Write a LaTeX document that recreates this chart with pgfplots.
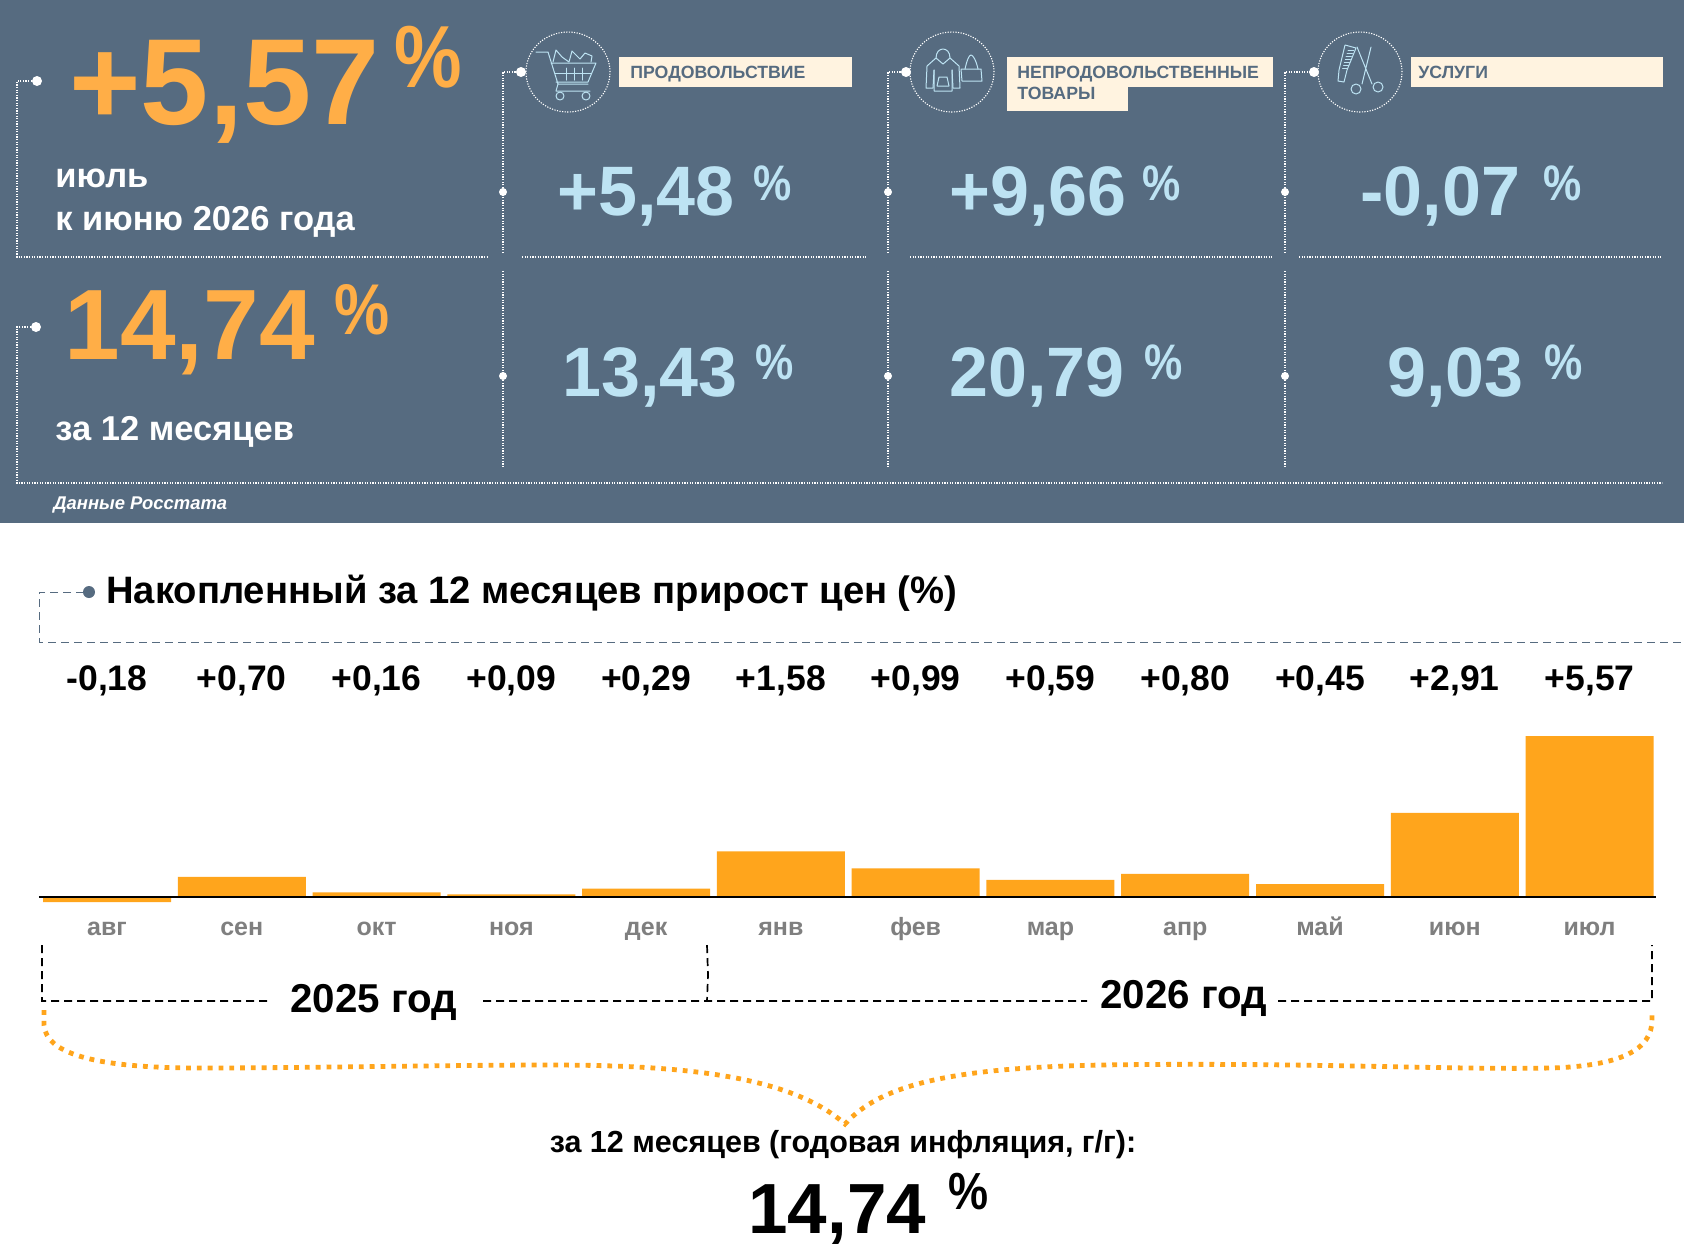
\documentclass[border=0pt]{standalone}
\usepackage{fontspec}
\setmainfont{Liberation Sans}
\usepackage{graphicx}
\usepackage{pgfplots}
\pgfplotsset{compat=1.18}
\definecolor{panel}{HTML}{566B80}
\definecolor{org}{HTML}{FFAE47}
\definecolor{bar}{HTML}{FFA51C}
\definecolor{sky}{HTML}{BDE3F3}
\definecolor{cream}{HTML}{FFF3E0}
\definecolor{grey}{HTML}{7F7F7F}
% sizes are in px of the 1684 wide picture, 1 px = 0.5 pt
\newcommand{\px}[1]{\fontsize{\fpeval{#1/2}pt}{\fpeval{#1/2}pt}\selectfont\bfseries}
% the percent signs of the reference are tall and narrow
\newcommand{\pct}{\scalebox{1}[1.16]{\%}}
\tikzset{
  t/.style={inner sep=0pt, anchor=base west},
  c/.style={inner sep=0pt, anchor=base},
  wdot/.style={draw=white, line width=0.55pt, dash pattern=on 0.6pt off 0.7pt},
  wball/.style={fill=white, draw=none},
  ico/.style={draw=sky, line width=0.5pt, line join=round, line cap=round},
  pxs/.style={x=0.5pt, y=-0.5pt},
}
\begin{document}
\begin{tikzpicture}
\begin{scope}[pxs]
\path[use as bounding box, fill=white] (0,0) rectangle (1684,1250);
\fill[panel] (0,0) rectangle (1684,523);

% left frames
\draw[wdot] (37,81) -- (17,81) -- (17,257) -- (488,257);
\draw[wdot] (522,257) -- (867,257);
\draw[wdot] (910,257) -- (1272,257);
\draw[wdot] (1299,257) -- (1661,257);
\draw[wdot] (36,327) -- (17,327) -- (17,483) -- (1662,483);
\foreach \x/\d in {503/521, 888/906, 1285/1314}{
  \draw[wdot] (\x,253) -- (\x,72) -- (\d,72);
  \draw[wdot] (\x,271) -- (\x,468);
  \fill[wball] (\d,72) circle (2.5pt);
  \fill[wball] (\x,192) circle (2pt);
  \fill[wball] (\x,376) circle (2pt);
}
\fill[wball] (37,81) circle (2.5pt);
\fill[wball] (36,327) circle (2.5pt);
\foreach \x in {568, 952, 1360}
  \draw[wdot] (\x,72) ellipse (21pt and 20pt);

% cart
\draw[ico] (536,52) -- (548,52) -- (558,84) -- (588,84) (551,63) -- (596,63) -- (588,82) -- (556,82);
\draw[ico] (566,68) -- (566,80) (574,68) -- (574,80) (582,68) -- (582,80) (555,73) -- (591,73);
\draw[ico] (558,84) -- (556,91) -- (590,91);
\draw[ico] (560,96) circle (2pt) (586,96) circle (2pt);
\draw[ico] (553,62) -- (556,50) -- (562,57) -- (569,62) -- (572,51) -- (580,59) -- (585,53) -- (592,56) -- (591,62);
% hoodie and bag
\draw[ico] (936,58) -- (927,66) -- (926,88) -- (933,88) -- (934,70) (950,58) -- (959,66) -- (960,88) -- (953,88) -- (952,70);
\draw[ico] (934,70) -- (934,91) -- (952,91) -- (952,70) (936,58) .. controls (936,46) and (950,46) .. (950,58) -- (943,64) -- (936,58);
\draw[ico] (937,86) -- (939,77) -- (947,77) -- (949,86) -- (937,86);
\draw[ico] (961,69) -- (981,69) -- (982,81) -- (962,81) -- (961,69);
\draw[ico] (965,69) .. controls (967,60) and (969,55) .. (971,55) .. controls (973,55) and (976,60) .. (978,69);
% comb and scissors
\draw[ico] (1345,45) -- (1356,48) -- (1347,70) -- (1344,82) -- (1338,81) -- (1339,70) -- (1345,45);
\foreach \y in {50,53,...,68} \draw[ico] (1355-0.35*\y+16,\y) -- (1347-0.3*\y+16,\y);
\draw[ico] (1357,47) -- (1372,84) (1371,47) -- (1362,84);
\draw[ico] (1378,87) circle (2.5pt) (1356,89) circle (2.5pt);

% category boxes
\fill[cream] (619,57) rectangle (852,87);
\fill[cream] (1007,57) rectangle (1273,87);
\fill[cream] (1007,87) rectangle (1128,111);
\fill[cream] (1411,57) rectangle (1663,87);
\node[t, text=panel, font=\px{17.7}] at (630,78) {ПРОДОВОЛЬСТВИЕ};
\node[t, text=panel, font=\px{17.7}] at (1017,78) {НЕПРОДОВОЛЬСТВЕННЫЕ};
\node[t, text=panel, font=\px{17.7}] at (1017,99) {ТОВАРЫ};
\node[t, text=panel, font=\px{17.7}] at (1418,78) {УСЛУГИ};

% headline figures
\node[t, text=org, font=\px{122.5}] at (69,124) {+5,57};
\node[t, text=org, font=\px{76}] at (394,87) {\pct};
\node[t, text=org, font=\px{100}] at (64,359) {14,74};
\node[t, text=org, font=\px{62}] at (334,334) {\pct};
\node[t, text=white, font=\px{34.5}] at (55,187) {июль};
\node[t, text=white, font=\px{34.5}] at (55,230) {к июню 2026 года};
\node[t, text=white, font=\px{34.5}] at (55,440) {за 12 месяцев};
\node[t, text=white, font=\fontsize{9.2pt}{9.2pt}\selectfont\bfseries\itshape] at (53,509) {Данные Росстата};

% group figures
\foreach \x/\p/\txt in {557/753/{+5,48}, 949/1142/{+9,66}, 1360/1543/{-0,07}}{
  \node[t, text=sky, font=\px{70}] at (\x,215) {\txt};
  \node[t, text=sky, font=\px{43}] at (\p,200) {\pct};
}
\foreach \x/\p/\txt in {562/755/{13,43}, 949/1144/{20,79}, 1387/1544/{9,03}}{
  \node[t, text=sky, font=\px{70}] at (\x,396) {\txt};
  \node[t, text=sky, font=\px{43}] at (\p,379) {\pct};
}

% chart heading
\draw[panel, line width=0.5pt, dash pattern=on 4pt off 2.5pt] (84,592) -- (39,592) -- (39,642) -- (1684,642);
\fill[panel] (89,592) circle (3pt);
\node[t, text=black, font=\px{38.2}] at (106,603) {Накопленный за 12 месяцев прирост цен (\%)};
\end{scope}

\begin{axis}[
    at={(19.5pt,-455.725pt)},
    anchor=south west,
    scale only axis,
    width=808.5pt,
    height=93.925pt,
    xmin=-0.5046,
    xmax=11.493,
    ymin=-0.5,
    ymax=6,
    clip=false,
    axis on top,
    axis x line=middle,
    axis y line=none,
    axis line style={-, black, line width=1.1pt},
    xtick={0,...,11},
    xticklabels={авг,сен,окт,ноя,дек,янв,фев,мар,апр,май,июн,июл},
    major tick length=0pt,
    xticklabel style={anchor=base, yshift=-19pt, text=grey, font=\px{25}, inner sep=0pt},
]
\addplot[ybar, bar width=64pt, fill=bar, draw=none] coordinates {
    (0,-0.18)
    (1,0.70)
    (2,0.16)
    (3,0.09)
    (4,0.29)
    (5,1.58)
    (6,0.99)
    (7,0.59)
    (8,0.80)
    (9,0.45)
    (10,2.91)
    (11,5.57)
};
\node[c, font=\px{35.5}] at (axis cs:0,7.14) {-0,18};
\node[c, font=\px{35.5}] at (axis cs:1,7.14) {+0,70};
\node[c, font=\px{35.5}] at (axis cs:2,7.14) {+0,16};
\node[c, font=\px{35.5}] at (axis cs:3,7.14) {+0,09};
\node[c, font=\px{35.5}] at (axis cs:4,7.14) {+0,29};
\node[c, font=\px{35.5}] at (axis cs:5,7.14) {+1,58};
\node[c, font=\px{35.5}] at (axis cs:6,7.14) {+0,99};
\node[c, font=\px{35.5}] at (axis cs:7,7.14) {+0,59};
\node[c, font=\px{35.5}] at (axis cs:8,7.14) {+0,80};
\node[c, font=\px{35.5}] at (axis cs:9,7.14) {+0,45};
\node[c, font=\px{35.5}] at (axis cs:10,7.14) {+2,91};
\node[c, font=\px{35.5}] at (axis cs:11,7.14) {+5,57};
\end{axis}

\begin{scope}[pxs]
% year brackets
\draw[black, line width=0.85pt, dash pattern=on 4pt off 2.5pt]
  (42,945) -- (42,1001) -- (268,1001)
  (483,1001) -- (1087,1001)
  (1278,1001) -- (1652,1001) -- (1652,945)
  (707,945) -- (708,975) -- (707,1001);
\node[t, font=\px{40.3}] at (290,1012) {2025 год};
\node[t, font=\px{40.3}] at (1100,1008) {2026 год};

% brace
\draw[bar, line width=2.4pt, dash pattern=on 2.4pt off 3pt]
  (44,1010) -- (44,1025) .. controls (46,1055) and (100,1068) .. (200,1068)
  .. controls (300,1068) and (450,1065) .. (550,1065)
  .. controls (680,1065) and (790,1075) .. (845,1124)
  .. controls (880,1085) and (950,1068) .. (1100,1065)
  .. controls (1300,1062) and (1450,1070) .. (1550,1068)
  .. controls (1620,1066) and (1652,1050) .. (1652,1020) -- (1652,1012);

\node[c, font=\px{30.5}] at (843,1152) {за 12 месяцев (годовая инфляция, г/г):};
\node[t, font=\px{71}] at (748,1233) {14,74};
\node[t, font=\px{45}] at (948,1209) {\pct};
\end{scope}
\end{tikzpicture}
\end{document}
